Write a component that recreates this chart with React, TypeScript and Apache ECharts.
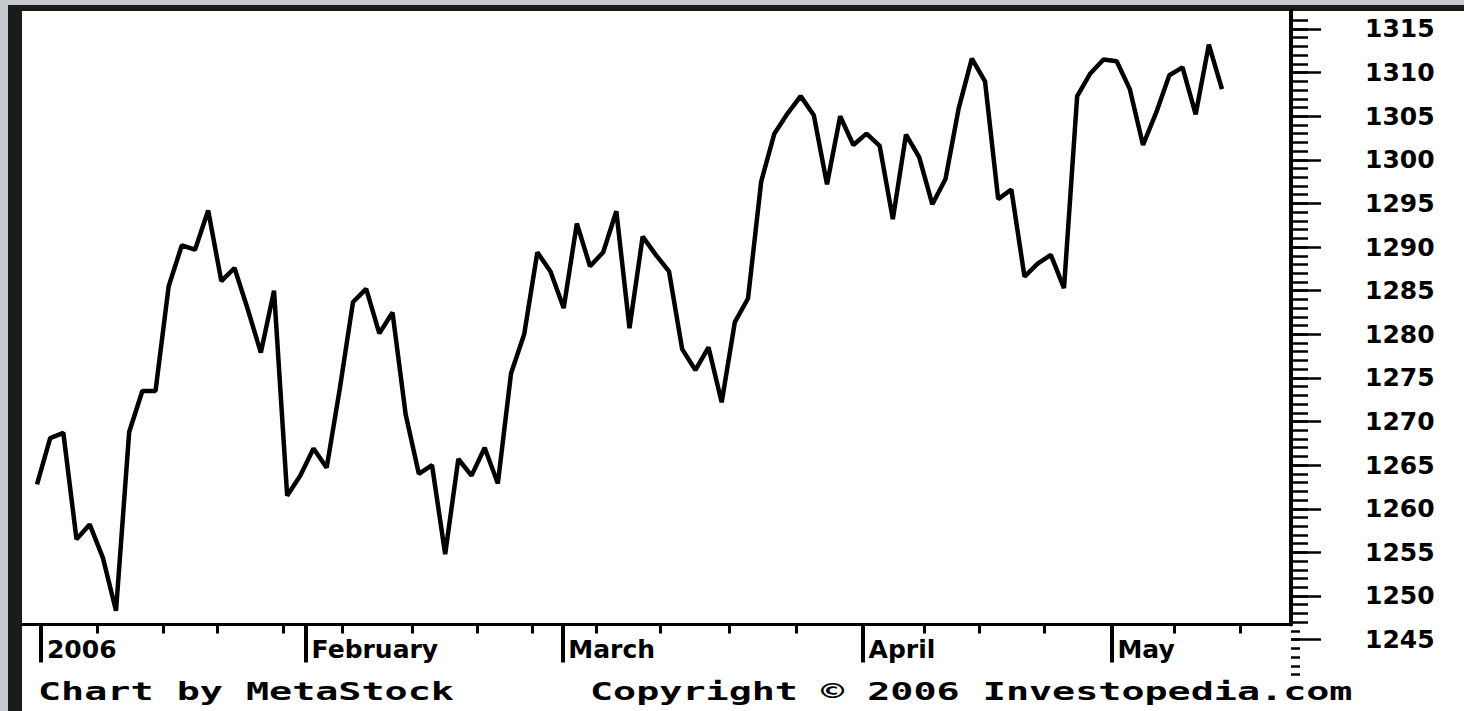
import React, { useEffect, useRef } from "react";
import * as echarts from "echarts";

// Trading days shown (index 0 = first point on the left)
const tradingDates = [
  "2005-12-21", "2005-12-22", "2005-12-23", "2005-12-27", "2005-12-28", "2005-12-29", "2005-12-30",
  "2006-01-03", "2006-01-04", "2006-01-05", "2006-01-06", "2006-01-09", "2006-01-10", "2006-01-11",
  "2006-01-12", "2006-01-13", "2006-01-17", "2006-01-18", "2006-01-19", "2006-01-20", "2006-01-23",
  "2006-01-24", "2006-01-25", "2006-01-26", "2006-01-27", "2006-01-30", "2006-01-31", "2006-02-01",
  "2006-02-02", "2006-02-03", "2006-02-06", "2006-02-07", "2006-02-08", "2006-02-09", "2006-02-10",
  "2006-02-13", "2006-02-14", "2006-02-15", "2006-02-16", "2006-02-17", "2006-02-21", "2006-02-22",
  "2006-02-23", "2006-02-24", "2006-02-27", "2006-02-28", "2006-03-01", "2006-03-02", "2006-03-03",
  "2006-03-06", "2006-03-07", "2006-03-08", "2006-03-09", "2006-03-10", "2006-03-13", "2006-03-14",
  "2006-03-15", "2006-03-16", "2006-03-17", "2006-03-20", "2006-03-21", "2006-03-22", "2006-03-23",
  "2006-03-24", "2006-03-27", "2006-03-28", "2006-03-29", "2006-03-30", "2006-03-31", "2006-04-03",
  "2006-04-04", "2006-04-05", "2006-04-06", "2006-04-07", "2006-04-10", "2006-04-11", "2006-04-12",
  "2006-04-13", "2006-04-17", "2006-04-18", "2006-04-19", "2006-04-20", "2006-04-21", "2006-04-24",
  "2006-04-25", "2006-04-26", "2006-04-27", "2006-04-28", "2006-05-01", "2006-05-02", "2006-05-03",
];

// Closing values
const closes = [
  1262.8, 1268.1, 1268.7, 1256.5, 1258.2, 1254.4, 1248.3,
  1268.8, 1273.5, 1273.5, 1285.5, 1290.2, 1289.7, 1294.2,
  1286.1, 1287.6, 1282.9, 1277.9, 1285.0, 1261.5, 1263.8,
  1266.9, 1264.7, 1273.8, 1283.7, 1285.2, 1280.1, 1282.5,
  1270.8, 1264.0, 1265.0, 1254.8, 1265.7, 1263.8, 1267.0,
  1262.9, 1275.5, 1280.0, 1289.4, 1287.2, 1283.0, 1292.7,
  1287.8, 1289.4, 1294.1, 1280.7, 1291.2, 1289.1, 1287.2,
  1278.3, 1275.9, 1278.5, 1272.2, 1281.4, 1284.1, 1297.5,
  1303.0, 1305.3, 1307.3, 1305.1, 1297.2, 1305.0, 1301.7,
  1303.0, 1301.6, 1293.2, 1302.9, 1300.3, 1294.9, 1297.8,
  1305.9, 1311.6, 1309.0, 1295.5, 1296.6, 1286.6, 1288.1,
  1289.1, 1285.3, 1307.3, 1309.9, 1311.5, 1311.3, 1308.1,
  1301.7, 1305.4, 1309.7, 1310.6, 1305.2, 1313.2, 1308.1,
];

// X axis: month markers and weekly markers (in trading-day units)
const monthLabels = ["2006", "February", "March", "April", "May"];
const monthTickDays = [0.3, 20.4, 39.9, 62.7, 81.6];
const weekTickDays = [
  4.6, 9.6, 13.7, 18.7, 23.2, 28.5, 33.4, 37.6, 42.5, 47.3, 52.6, 57.7, 67.4, 71.6, 76.5, 86.4, 91.4,
];

// Y axis labels
const priceLabels = [1245, 1250, 1255, 1260, 1265, 1270, 1275, 1280, 1285, 1290, 1295, 1300, 1305, 1310, 1315];

export default function App() {
  const ref = useRef<HTMLDivElement>(null);

  useEffect(() => {
    const chart = echarts.init(ref.current!, null, { renderer: "svg" });

    const upperMinor: number[] = [];
    for (let v = 1247; v <= 1316; v++) upperMinor.push(v);
    const lowerMinor: number[] = [];
    for (let v = 1241; v <= 1246; v++) lowerMinor.push(v);

    const xMin = -1.14;
    const xMax = 95.24;
    const yLow = 1240.37;
    const yHigh = 1317.06;
    const labelFont = {
      fontFamily: "DejaVu Sans",
      fontWeight: "bold" as const,
      fontSize: 25,
      color: "#000",
    };

    const scaleGrid = { left: 22, top: 11, width: 1269, height: 669 };
    const hiddenX = (g: number) => ({ type: "value", gridIndex: g, show: false, min: 0, max: 1 });
    const tickAxis = (g: number, values: number[], length: number, withLabels: boolean) => ({
      type: "value",
      gridIndex: g,
      position: "right",
      min: yLow,
      max: yHigh,
      axisLine: { show: false, onZero: false },
      axisTick: { show: true, customValues: values, length, lineStyle: { color: "#000", width: 2.5 } },
      axisLabel: withLabels
        ? {
            show: true,
            customValues: values,
            margin: 74,
            padding: [7, 0, 0, 0],
            ...labelFont,
            formatter: (val: number) => String(Math.round(val)),
          }
        : { show: false },
      splitLine: { show: false },
    });

    const option: any = {
      animation: false,
      backgroundColor: "#c6c9cd",
      graphic: [
        {
          type: "rect",
          z: -20,
          silent: true,
          shape: { x: 8, y: 5, width: 1456, height: 706 },
          style: { fill: "#1b1b1b" },
        },
        {
          type: "rect",
          z: -19,
          silent: true,
          shape: { x: 22, y: 11, width: 1442, height: 700 },
          style: { fill: "#ffffff" },
        },
        {
          type: "text",
          x: 38,
          y: 692,
          scaleX: 1.6,
          silent: true,
          style: {
            text: "Chart by MetaStock",
            fontFamily: "DejaVu Sans Mono",
            fontWeight: "bold",
            fontSize: 24,
            fill: "#000",
            verticalAlign: "middle",
          },
        },
        {
          type: "text",
          x: 590,
          y: 692,
          scaleX: 1.6,
          silent: true,
          style: {
            text: "Copyright © 2006 Investopedia.com",
            fontFamily: "DejaVu Sans Mono",
            fontWeight: "bold",
            fontSize: 24,
            fill: "#000",
            verticalAlign: "middle",
          },
        },
      ],
      grid: [
        { left: 22, top: 11, width: 1269, height: 613.5 },
        scaleGrid,
        scaleGrid,
        scaleGrid,
      ],
      xAxis: [
        {
          type: "value",
          gridIndex: 0,
          position: "bottom",
          min: xMin,
          max: xMax,
          axisLine: { show: true, onZero: false, lineStyle: { color: "#000", width: 3 } },
          axisTick: { show: true, customValues: weekTickDays, length: 9, lineStyle: { color: "#000", width: 3 } },
          axisLabel: { show: false },
          splitLine: { show: false },
        },
        {
          type: "value",
          gridIndex: 0,
          position: "bottom",
          min: xMin,
          max: xMax,
          axisLine: { show: false, onZero: false },
          axisTick: { show: true, customValues: monthTickDays, length: 38, lineStyle: { color: "#000", width: 4 } },
          axisLabel: {
            show: true,
            customValues: monthTickDays,
            align: "left",
            margin: 12,
            padding: [0, 0, 0, 6],
            ...labelFont,
            formatter: (val: number) => {
              let best = 0;
              for (let k = 0; k < monthTickDays.length; k++) {
                if (Math.abs(monthTickDays[k] - val) < Math.abs(monthTickDays[best] - val)) best = k;
              }
              return monthLabels[best];
            },
          },
          splitLine: { show: false },
        },
        hiddenX(1),
        hiddenX(2),
        hiddenX(3),
      ],
      yAxis: [
        {
          type: "value",
          gridIndex: 0,
          position: "right",
          min: 1246.73,
          max: yHigh,
          axisLine: { show: true, onZero: false, lineStyle: { color: "#000", width: 4 } },
          axisTick: { show: false },
          axisLabel: { show: false },
          splitLine: { show: false },
        },
        tickAxis(1, upperMinor, 17, false),
        tickAxis(2, lowerMinor, 9, false),
        tickAxis(3, priceLabels, 30, true),
      ],
      series: [
        {
          type: "line",
          name: "Close",
          xAxisIndex: 0,
          yAxisIndex: 0,
          data: closes.map((v, i) => [i, v]),
          showSymbol: false,
          symbol: "none",
          silent: true,
          lineStyle: { color: "#000", width: 4.5 },
        },
      ],
    };

    chart.setOption(option);
    return () => chart.dispose();
  }, []);

  return (
    <div
      ref={ref}
      data-dates={tradingDates.length}
      style={{ position: "fixed", left: 0, top: 0, width: 1464, height: 711 }}
    />
  );
}
